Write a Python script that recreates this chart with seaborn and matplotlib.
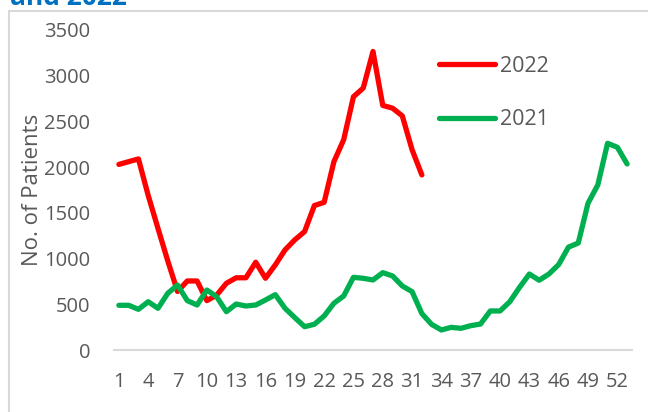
import matplotlib
matplotlib.use("Agg")
import matplotlib.pyplot as plt
from matplotlib.patches import Rectangle
from matplotlib.lines import Line2D
import seaborn as sns
import pandas as pd

# ---- data ----
weeks_2022 = list(range(1, 33))
cases_2022 = [2030, 2060, 2090, 1690, 1330, 975, 640, 755, 755, 540, 600, 730,
              790, 790, 960, 785, 930, 1095, 1205, 1295, 1580, 1615, 2060, 2300,
              2770, 2865, 3265, 2675, 2645, 2560, 2190, 1915]
weeks_2021 = list(range(1, 54))
cases_2021 = [489, 489, 445, 528, 456, 620, 711, 540, 492, 656, 583, 419, 503,
              481, 492, 547, 605, 456, 354, 255, 281, 372, 511, 591, 795, 784,
              766, 846, 810, 700, 638, 398, 280, 219, 248, 237, 266, 284, 427,
              427, 529, 686, 831, 763, 831, 935, 1125, 1170, 1605, 1805, 2261,
              2217, 2035]
series_names = ["2022", "2021"]
series_colors = ["#FF0000", "#00B050"]
x_tick_labels = [1, 4, 7, 10, 13, 16, 19, 22, 25, 28, 31, 34, 37, 40, 43, 46, 49, 52]
y_ticks = [0, 500, 1000, 1500, 2000, 2500, 3000, 3500]
y_label = "No. of Patients"
title_text = "and 2022"

df = pd.concat([
    pd.DataFrame({"week": weeks_2022, "patients": cases_2022, "year": "2022"}),
    pd.DataFrame({"week": weeks_2021, "patients": cases_2021, "year": "2021"}),
], ignore_index=True)

sns.set_theme(style="white")
plt.rcParams["font.family"] = ["Open Sans", "DejaVu Sans"]

W, H = 648, 412
fig = plt.figure(figsize=(W / 100, H / 100), dpi=100)
ax = fig.add_axes([114 / W, 1 - 350 / H, (632 - 114) / W, (350 - 30) / H])

sns.lineplot(data=df, x="week", y="patients", hue="year", hue_order=series_names,
             palette=dict(zip(series_names, series_colors)), linewidth=3.8,
             ax=ax, legend=False)
for ln in ax.get_lines():
    ln.set_solid_capstyle("round")
    ln.set_solid_joinstyle("round")

ax.set_xlim(0.5, 53.5)
ax.set_ylim(0, 3500)
ax.set_xticks(x_tick_labels)
ax.set_xticklabels([str(v) for v in x_tick_labels])
ax.set_yticks(y_ticks)
ax.tick_params(axis="both", length=0, labelsize=14.5, labelcolor="#595959")
ax.tick_params(axis="x", pad=16)
ax.tick_params(axis="y", pad=17)
ax.set_xlabel("")
ax.set_ylabel(y_label, fontsize=16, color="#595959", labelpad=1)

for s in ["top", "right", "left"]:
    ax.spines[s].set_visible(False)
ax.spines["bottom"].set_color("#D9D9D9")
ax.spines["bottom"].set_linewidth(1.5)
ax.grid(False)

handles = [Line2D([0], [0], color=c, lw=3.8, solid_capstyle="round") for c in series_colors]
leg = ax.legend(handles, series_names, loc="upper left",
                bbox_to_anchor=(439 / W, 1 - 56 / H), bbox_transform=fig.transFigure,
                frameon=False, fontsize=15.5, handlelength=2.6, handletextpad=0.25,
                labelspacing=1.5, borderpad=0, borderaxespad=0)
for t in leg.get_texts():
    t.set_color("#595959")

# chart frame (extends beyond the crop on right/bottom)
fig.patches.append(Rectangle((8.5 / W, -0.1), 1.2, 1.1 - 11.5 / H,
                             transform=fig.transFigure, fill=False,
                             edgecolor="#D9D9D9", linewidth=1.5))
fig.text(10 / W, 1 - 5 / H, title_text, fontsize=19, fontweight="bold",
         color="#0070C0", va="baseline", ha="left")

fig.savefig("out.png", dpi=100)
